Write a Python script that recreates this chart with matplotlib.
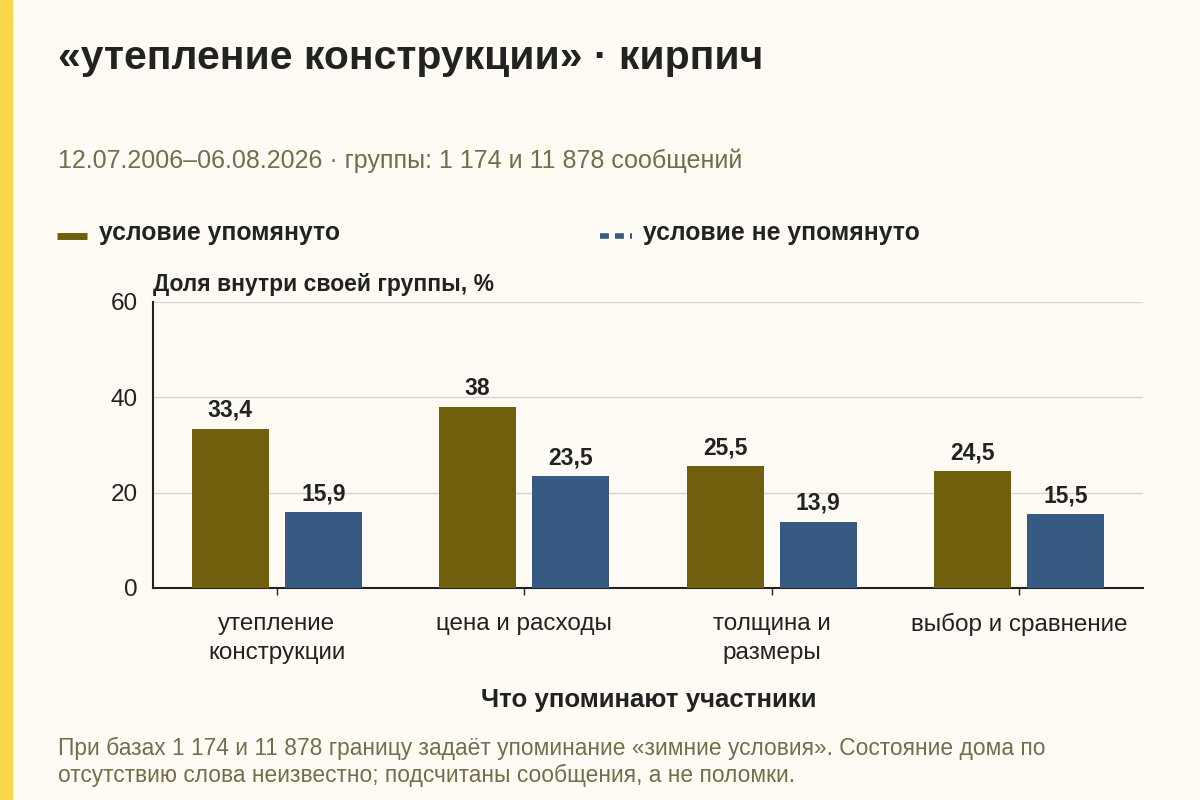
import matplotlib
matplotlib.use("Agg")
import matplotlib.pyplot as plt
from matplotlib.lines import Line2D
from matplotlib.patches import Rectangle
import numpy as np

categories = ["утепление\nконструкции", "цена и расходы", "толщина и\nразмеры", "выбор и сравнение"]
mentioned = [33.4, 38.0, 25.5, 24.5]
not_mentioned = [15.9, 23.5, 13.9, 15.5]
value_labels_m = ["33,4", "38", "25,5", "24,5"]
value_labels_n = ["15,9", "23,5", "13,9", "15,5"]
yticks = [0, 20, 40, 60]

BG = "#fdfbf3"
OLIVE = "#705f0c"
BLUE = "#365a82"
TEXT = "#222222"
MUTED = "#746c4a"

plt.rcParams['font.family'] = ['Liberation Sans', 'DejaVu Sans']

W, H = 1200, 800
fig = plt.figure(figsize=(12, 8), dpi=100, facecolor=BG)

def fx(px): return px / W
def fy(py): return 1 - py / H

# yellow stripe
fig.patches.append(Rectangle((0, 0), fx(12), 1, transform=fig.transFigure, color="#f9d74a", zorder=0))

ax = fig.add_axes([fx(153), fy(588), fx(1143 - 153), (588 - 302) / H])
ax.set_facecolor(BG)
x = np.arange(len(categories))
bw = 0.31
off = 0.188
b1 = ax.bar(x - off, mentioned, bw, color=OLIVE, zorder=3)
b2 = ax.bar(x + off, not_mentioned, bw, color=BLUE, zorder=3)
for rect, lab in zip(b1, value_labels_m):
    ax.annotate(lab, (rect.get_x() + rect.get_width() / 2, rect.get_height()),
                xytext=(0, 5), textcoords="offset points", ha="center", va="bottom",
                fontsize=16.5, fontweight="bold", color=TEXT)
for rect, lab in zip(b2, value_labels_n):
    ax.annotate(lab, (rect.get_x() + rect.get_width() / 2, rect.get_height()),
                xytext=(0, 5), textcoords="offset points", ha="center", va="bottom",
                fontsize=16.5, fontweight="bold", color=TEXT)

ax.set_xlim(-0.5, len(categories) - 0.5)
ax.set_ylim(0, 60)
ax.set_yticks(yticks)
ax.set_yticklabels([str(v) for v in yticks], fontsize=17.5, color=TEXT)
ax.set_xticks(x)
ax.set_xticklabels(categories, fontsize=17.5, color=TEXT, linespacing=1.4)
ax.tick_params(axis="y", length=0, pad=11)
ax.tick_params(axis="x", length=5, width=1, color=TEXT, pad=13)
ax.grid(axis="y", color="#d6d4cc", linewidth=1, zorder=0)
for s in ["top", "right"]:
    ax.spines[s].set_visible(False)
for s in ["left", "bottom"]:
    ax.spines[s].set_color(TEXT)
    ax.spines[s].set_linewidth(1.5)

fig.text(fx(58), fy(58), "«утепление конструкции» · кирпич", fontsize=29.4, fontweight="bold",
         color=TEXT, ha="left", va="center")
fig.text(fx(58), fy(161), "12.07.2006–06.08.2026 · группы: 1 174 и 11 878 сообщений", fontsize=18,
         color=MUTED, ha="left", va="center")

fig.lines.append(Line2D([fx(57), fx(87)], [fy(236), fy(236)], transform=fig.transFigure,
                        color=OLIVE, linewidth=5, solid_capstyle="butt"))
fig.text(fx(99), fy(233), "условие упомянуто", fontsize=17.8, fontweight="bold", color=TEXT,
         ha="left", va="center")
fig.lines.append(Line2D([fx(600), fx(632)], [fy(236), fy(236)], transform=fig.transFigure,
                        color=BLUE, linewidth=4, linestyle=(0, (1.6, 1.1)), dash_capstyle="butt"))
fig.text(fx(643), fy(233), "условие не упомянуто", fontsize=17.8, fontweight="bold", color=TEXT,
         ha="left", va="center")

fig.text(fx(153), fy(285), "Доля внутри своей группы, %", fontsize=16.5, fontweight="bold", color=TEXT,
         ha="left", va="center")

fig.text(fx(649), fy(700), "Что упоминают участники", fontsize=18.6, fontweight="bold", color=TEXT,
         ha="center", va="center")

fig.text(fx(58), fy(762), "При базах 1 174 и 11 878 границу задаёт упоминание «зимние условия». Состояние дома по\n"
         "отсутствию слова неизвестно; подсчитаны сообщения, а не поломки.", fontsize=16.4, color=MUTED,
         ha="left", va="center", linespacing=1.25)

fig.savefig("out.png", dpi=100, facecolor=BG)
